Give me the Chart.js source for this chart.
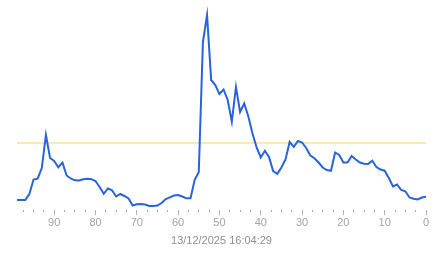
<!DOCTYPE html>
<html>
<head>
<meta charset="utf-8">
<script src="https://cdn.jsdelivr.net/npm/chart.js@4"></script>
<style>
  html, body { margin: 0; padding: 0; background: #fff; }
  #wrap { width: 443px; height: 258px; position: relative; }
</style>
</head>
<body>
<div id="wrap"><canvas id="trendChart"></canvas></div>
<script>
// samples, oldest first (x = steps ago)
const stepsAgo = [
  99, 98, 97, 96, 95, 94, 93, 92, 91, 90, 89, 88, 87, 86, 85, 84, 83, 82, 81, 80,
  79, 78, 77, 76, 75, 74, 73, 72, 71, 70, 69, 68, 67, 66, 65, 64, 63, 62, 61, 60,
  59, 58, 57, 56, 55, 54, 53, 52, 51, 50, 49, 48, 47, 46, 45, 44, 43, 42, 41, 40,
  39, 38, 37, 36, 35, 34, 33, 32, 31, 30, 29, 28, 27, 26, 25, 24, 23, 22, 21, 20,
  19, 18, 17, 16, 15, 14, 13, 12, 11, 10, 9, 8, 7, 6, 5, 4, 3, 2, 1, 0
];
const values = [
  10, 10, 10, 16, 30.5, 31.3, 42, 75, 52, 49, 42.7, 47.5, 34.5, 31.5, 29.7, 29.5, 30.8, 31.2, 30.8, 29,
  23, 16.2, 21.5, 19.7, 13.5, 16, 14, 11.5, 4.5, 5.7, 6, 5.5, 4, 4, 4.5, 7, 11, 12.7, 14.5, 15,
  13.5, 11.7, 11.7, 30, 38, 168, 195, 130, 125, 116, 120.5, 110, 88.3, 123, 98, 106.5, 93.5, 76.5, 62.5, 52.5,
  59.2, 53, 39, 36.2, 42.5, 50.5, 68, 63.2, 69, 67.5, 62, 54.5, 51.8, 47.5, 42.5, 40, 39.2, 57.5, 55, 47.5,
  47.5, 54, 50.5, 47.5, 46.2, 46, 49.3, 43, 40.5, 39.3, 32, 23.5, 25.5, 20, 18.7, 12.5, 11.2, 10.5, 12.5, 13.2
];
const threshold = 67;
const stampText = '13/12/2025 16:04:29';

Chart.defaults.font.family = 'Arial, "Liberation Sans", sans-serif';

const points = stepsAgo.map((x, i) => ({ x: x, y: values[i] }));
const thresholdLine = [
  { x: stepsAgo[0], y: threshold },
  { x: stepsAgo[stepsAgo.length - 1], y: threshold }
];

const ctx = document.getElementById('trendChart').getContext('2d');
new Chart(ctx, {
  type: 'line',
  data: {
    datasets: [
      {
        data: points,
        borderColor: '#2a63d8',
        borderWidth: 2,
        pointRadius: 0,
        tension: 0,
        fill: false
      },
      {
        data: thresholdLine,
        borderColor: '#f2d468',
        borderWidth: 1,
        pointRadius: 0,
        fill: false
      }
    ]
  },
  options: {
    responsive: true,
    maintainAspectRatio: false,
    animation: false,
    layout: { padding: { left: 17, right: 17, top: 0, bottom: 0 } },
    plugins: {
      legend: { display: false },
      tooltip: { enabled: false }
    },
    scales: {
      x: {
        type: 'linear',
        reverse: true,
        min: 0,
        max: 99,
        border: { display: false },
        grid: {
          drawOnChartArea: false,
          tickLength: 5,
          tickColor: ctx => (ctx.tick && ctx.tick.value % 10 === 0) ? '#b0b0b0' : '#a8a8a8',
          tickWidth: 1,
          tickBorderDash: ctx => (ctx.tick && ctx.tick.value % 10 === 0) ? [] : [2, 10]
        },
        ticks: {
          stepSize: 2.5,
          includeBounds: false,
          autoSkip: false,
          maxRotation: 0,
          padding: 1,
          color: '#a3a3a3',
          font: { size: 11 },
          callback: v => (v % 10 === 0 ? String(v) : '')
        },
        title: {
          display: true,
          text: stampText,
          color: '#8f8f8f',
          font: { size: 11 },
          padding: { top: 0, bottom: 10 }
        },
        afterFit: scale => { scale.height = 48; }
      },
      y: {
        display: false,
        min: 0,
        max: 210
      }
    }
  }
});
</script>
</body>
</html>
